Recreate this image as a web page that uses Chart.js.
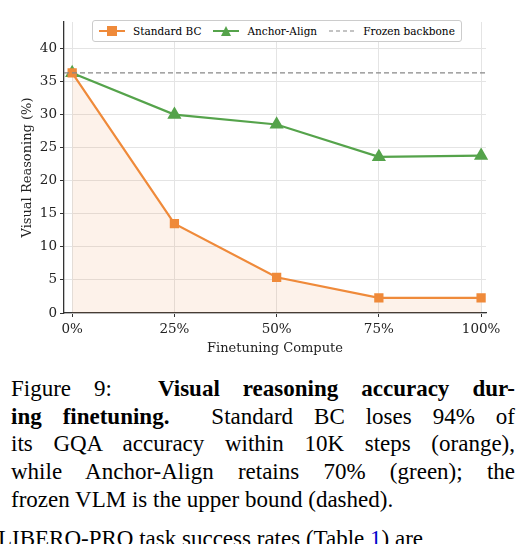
<!DOCTYPE html>
<html><head><meta charset="utf-8">
<script src="https://cdn.jsdelivr.net/npm/chart.js@4"></script>
<style>
html,body{margin:0;padding:0;background:#fff;width:529px;height:544px;overflow:hidden}
#wrap{position:relative;width:529px;height:360px}
#legend{position:absolute;left:92px;top:20px;height:20px;border:1px solid #ccc;border-radius:3px;background:#fff;font:10.5px "DejaVu Serif";display:flex;align-items:center;padding:0 6px;gap:0;white-space:nowrap}
.it{display:flex;align-items:center;margin-right:12px}
.it:last-child{margin-right:0}
.sw{width:26px;height:12px;margin-right:8px}
#cap{position:absolute;left:11px;top:375px;width:504px;font:23px "Liberation Serif";line-height:27.7px;color:#000}
#cap div{text-align:justify;text-align-last:justify;white-space:nowrap}
#cap div.l{text-align-last:left}
#cut{position:absolute;left:-2px;top:526px;font:23px "Liberation Serif";white-space:nowrap}
</style></head><body>
<div id="wrap"><canvas id="c" width="529" height="360"></canvas>
<div id="legend">
<div class="it"><svg class="sw" viewBox="0 0 26 12"><line x1="0" y1="6" x2="26" y2="6" stroke="#ef8a3a" stroke-width="2"/><rect x="8" y="1" width="10" height="10" fill="#ef8a3a"/></svg>Standard BC</div>
<div class="it"><svg class="sw" viewBox="0 0 26 12"><line x1="0" y1="6" x2="26" y2="6" stroke="#55a34b" stroke-width="2"/><polygon points="13,1 18,11 8,11" fill="#55a34b"/></svg>Anchor-Align</div>
<div class="it"><svg class="sw" viewBox="0 0 26 12"><line x1="0" y1="6" x2="26" y2="6" stroke="#888" stroke-width="1.2" stroke-dasharray="4,3"/></svg>Frozen backbone</div>
</div></div>
<div id="cap">
<div>Figure 9: &nbsp;<b>Visual reasoning accuracy dur-</b></div>
<div><b>ing finetuning.</b> &nbsp;Standard BC loses 94% of</div>
<div>its GQA accuracy within 10K steps (orange),</div>
<div>while Anchor-Align retains 70% (green); the</div>
<div class="l">frozen VLM is the upper bound (dashed).</div>
</div>
<div id="cut">LIBERO-PRO task success rates (Table <span style="color:#00c">1</span>) are</div>
<script>
const compute=[0,25,50,75,100];
const tickLabels=["0%","25%","50%","75%","100%"];
const standardBC=[36.3,13.5,5.4,2.3,2.3];
const anchorAlign=[36.3,30.0,28.5,23.6,23.8];
const frozen=36.3;
const orange="#ef8a3a",green="#55a34b";
const hline={id:'hline',afterDatasetsDraw(ch){const y=ch.scales.y.getPixelForValue(frozen),a=ch.chartArea,c=ch.ctx;c.save();c.strokeStyle='#888';c.lineWidth=1.3;c.setLineDash([5,3]);c.beginPath();c.moveTo(a.left,y);c.lineTo(a.right,y);c.stroke();c.restore();}};
const font={family:"DejaVu Serif",size:13.5};
new Chart(document.getElementById('c'),{type:'line',
data:{datasets:[
{label:'Standard BC',data:compute.map((x,i)=>({x,y:standardBC[i]})),borderColor:orange,backgroundColor:'rgba(240,140,60,0.11)',fill:'origin',borderWidth:2.2,pointStyle:'rect',pointRadius:5,pointBackgroundColor:orange,pointBorderColor:orange,tension:0},
{label:'Anchor-Align',data:compute.map((x,i)=>({x,y:anchorAlign[i]})),borderColor:green,fill:false,borderWidth:2.2,pointStyle:'triangle',pointRadius:6,pointBackgroundColor:green,pointBorderColor:green,tension:0}
]},
options:{responsive:false,animation:false,clip:false,
layout:{padding:{top:22,right:43,left:0,bottom:0}},
plugins:{legend:{display:false},tooltip:{enabled:false}},
scales:{
x:{type:'linear',min:-2,max:101.2,afterBuildTicks:s=>{s.ticks=compute.map(v=>({value:v}));},
ticks:{font,color:'#222',padding:4,maxRotation:0,callback:(v)=>tickLabels[compute.indexOf(v)]},
grid:{color:'#e4e4e4',drawTicks:true,tickLength:4,tickColor:'#333'},border:{color:'#333',width:1.3},
title:{display:true,text:'Finetuning Compute',font:{family:"DejaVu Serif",size:13},color:'#222',padding:{top:0}},
afterFit:s=>{s.height=47;}},
y:{min:0,max:44,afterBuildTicks:s=>{s.ticks=[0,5,10,15,20,25,30,35,40].map(v=>({value:v}));},
ticks:{font,color:'#222',padding:3},
grid:{color:'#e4e4e4',tickLength:4,tickColor:'#333'},border:{color:'#333',width:1.3},
title:{display:true,text:'Visual Reasoning (%)',font:{family:"DejaVu Serif",size:13},color:'#222',padding:{top:20,bottom:2}},
afterFit:s=>{s.width=64;}}
}},plugins:[hline]});
</script></body></html>
